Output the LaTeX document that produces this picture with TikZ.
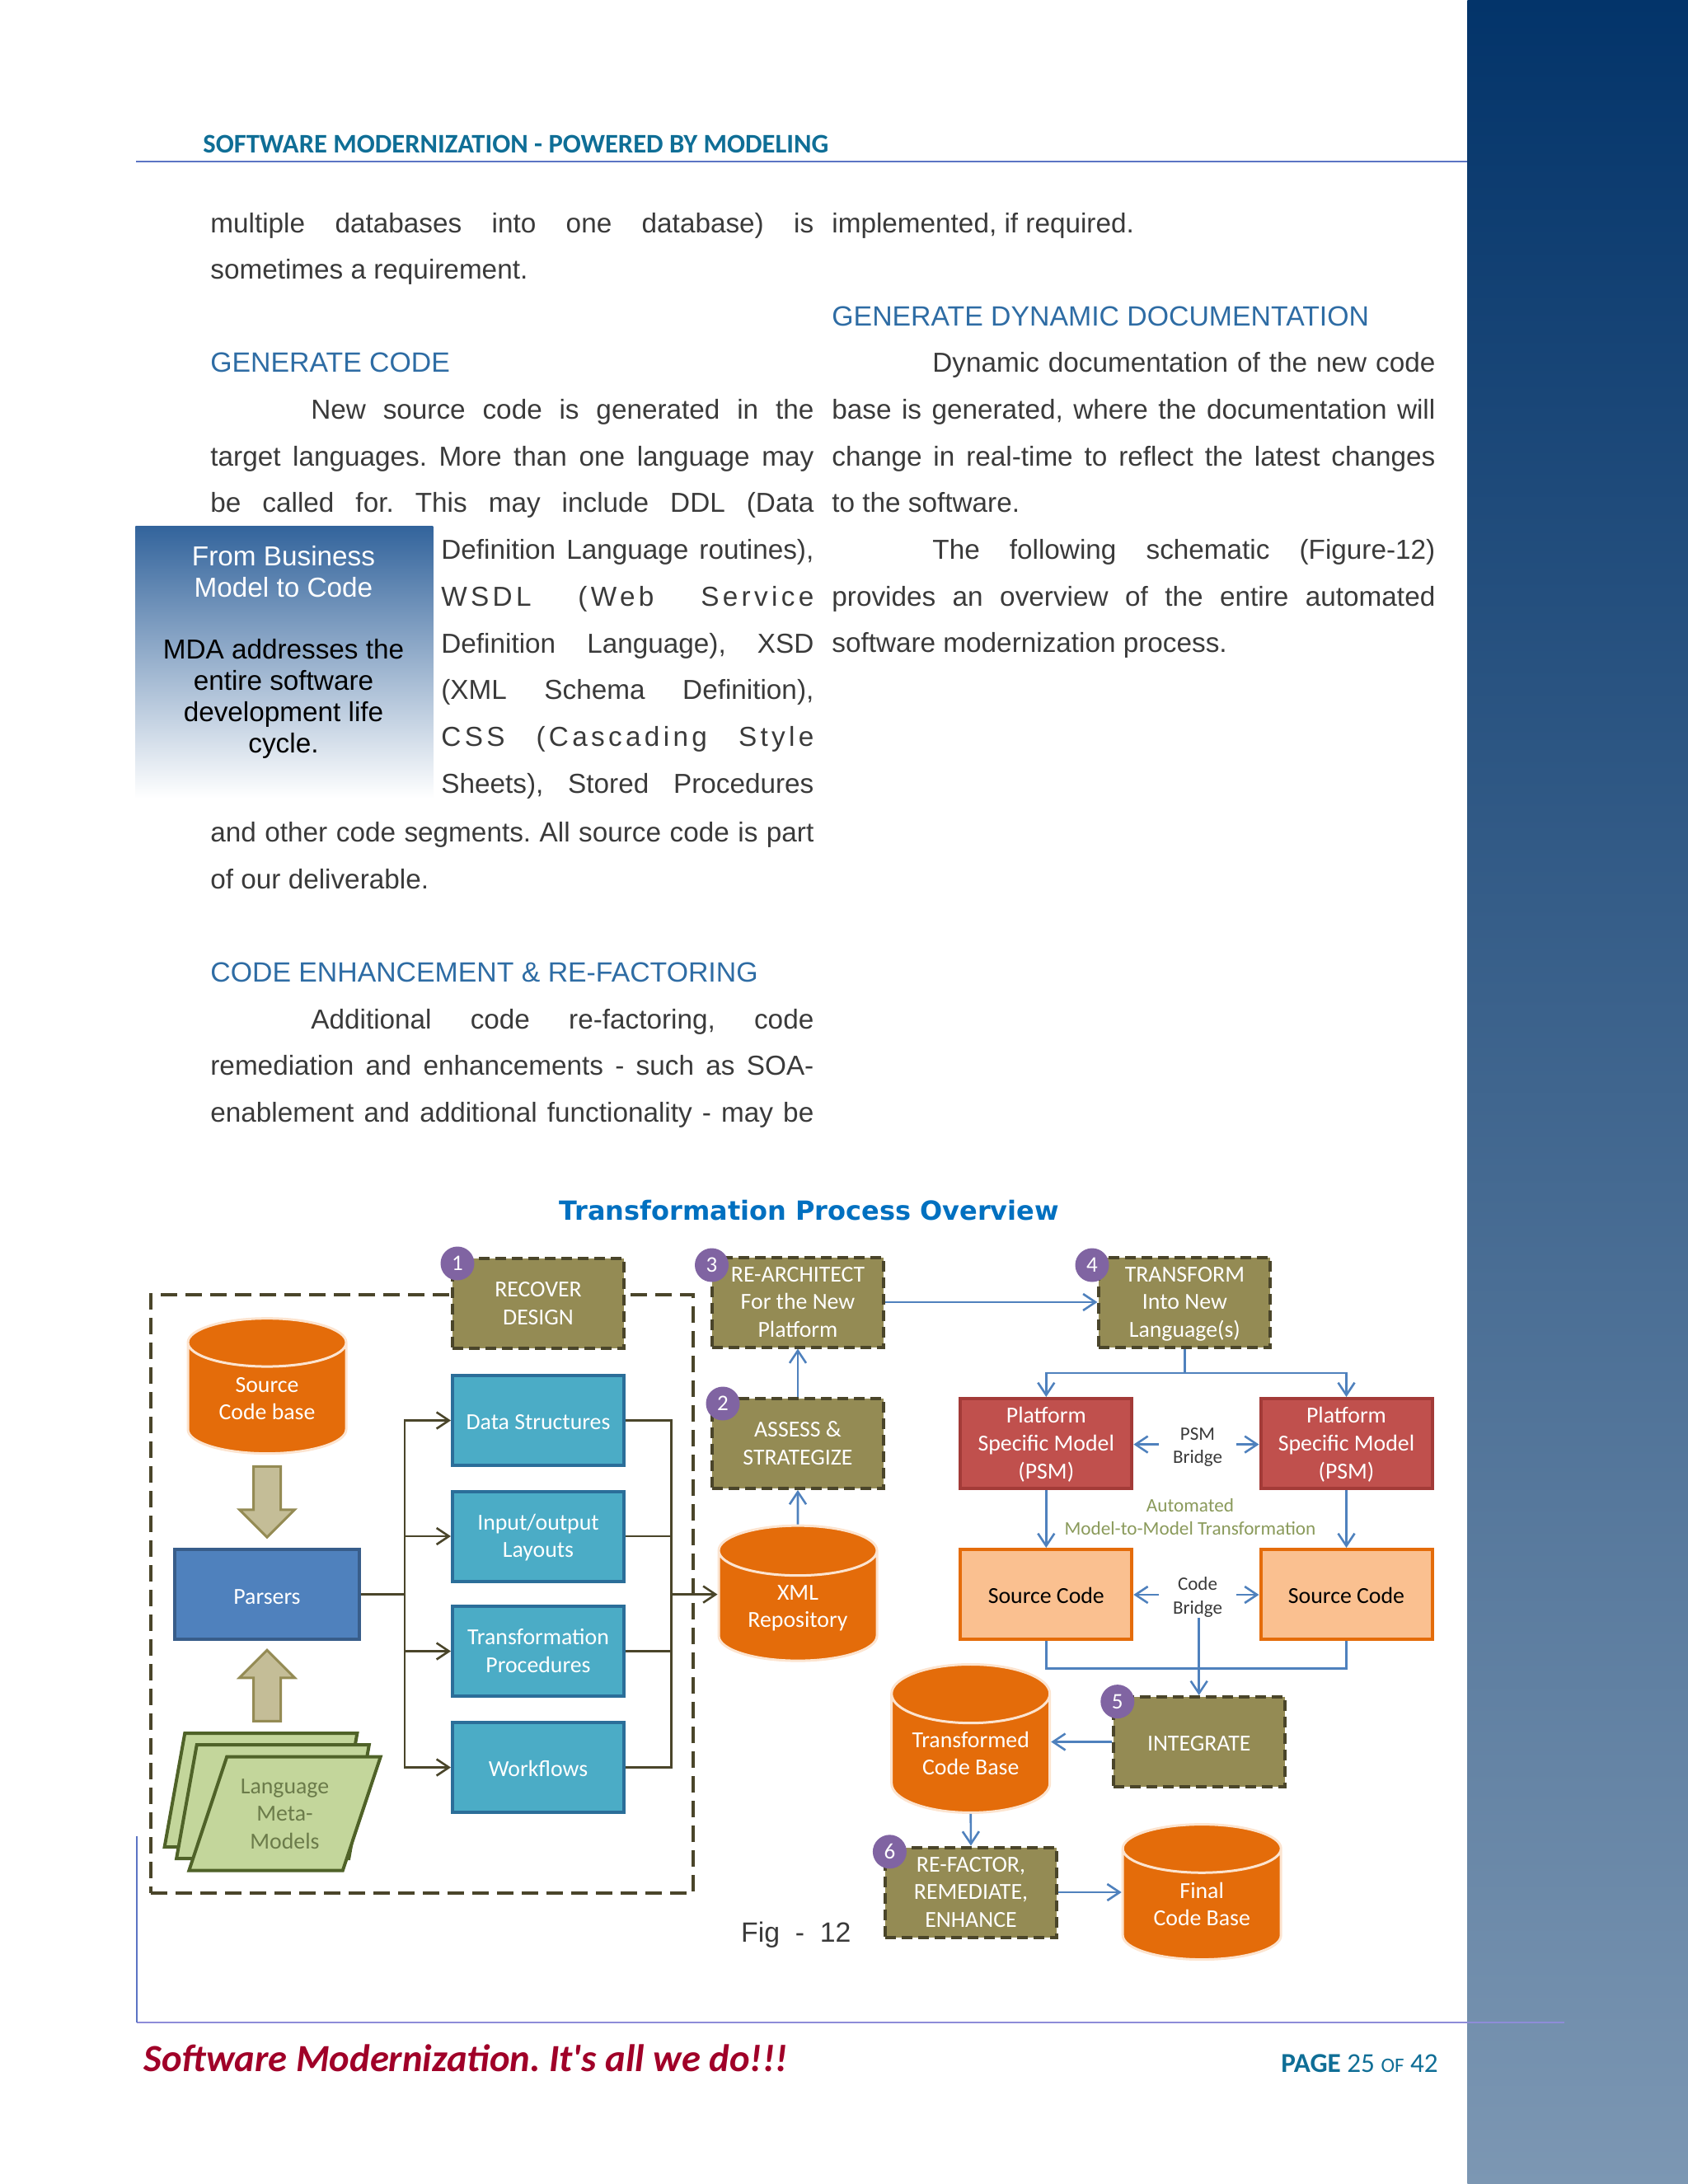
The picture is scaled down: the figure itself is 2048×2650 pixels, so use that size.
\documentclass[tikz,border=0pt]{standalone}
\usepackage{fontspec}
\setmainfont{Liberation Sans}
\newfontfamily\spacedfont[LetterSpace=13]{Liberation Sans}
\newfontfamily\boxfont{Carlito}
\newfontfamily\titlefont{DejaVu Sans}
\usetikzlibrary{arrows.meta,positioning,shapes.geometric,shapes.arrows}
\definecolor{barTop}{HTML}{03346A}
\definecolor{barBottom}{HTML}{7C97B3}
\definecolor{bodyInk}{HTML}{3A3A3A}
\definecolor{headBlue}{HTML}{2E6CA4}
\definecolor{pullBlue}{HTML}{33649C}
\definecolor{tealInk}{HTML}{0F6E96}
\definecolor{ruleBlue}{HTML}{5B74C4}
\definecolor{footRule}{HTML}{8E8CD8}
\definecolor{tagRed}{HTML}{A00028}
\definecolor{titleBlue}{HTML}{0070C0}
\definecolor{olive}{HTML}{948B54}
\definecolor{oliveDark}{HTML}{4A452A}
\definecolor{oliveLight}{HTML}{C4BD97}
\definecolor{cylOrange}{HTML}{E46C0A}
\definecolor{cylRim}{HTML}{FCE4D0}
\definecolor{cyanBox}{HTML}{4BACC6}
\definecolor{cyanLine}{HTML}{2B6E99}
\definecolor{parserBlue}{HTML}{4F81BD}
\definecolor{parserLine}{HTML}{385D8A}
\definecolor{leaf}{HTML}{C3D69B}
\definecolor{leafLine}{HTML}{4F6228}
\definecolor{leafInk}{HTML}{6B7B4A}
\definecolor{psmRed}{HTML}{C0504D}
\definecolor{psmLine}{HTML}{A33B38}
\definecolor{srcPeach}{HTML}{FAC090}
\definecolor{badgePurple}{HTML}{8064A2}
\definecolor{linkBlue}{HTML}{4F81BD}
\definecolor{autoGreen}{HTML}{8A9A5B}
\newcommand{\headfont}{\color{headBlue}\fontsize{16.9}{28.33}\selectfont}
\newcommand{\justifytext}{\leftskip=0pt\relax\rightskip=0pt\relax\parfillskip=0pt plus 1fil\relax\spaceskip=0pt\relax\xspaceskip=0pt\relax\hyphenpenalty=10000\relax}
\newcommand{\toprule}{\rule{0pt}{14pt}}
\newcommand{\smalltop}{\rule{0pt}{11pt}}
\tolerance=10000
\AtBeginDocument{\frenchspacing}

\begin{document}
\begin{tikzpicture}[
  x=0.5pt, y=-0.5pt,
  >={Straight Barb[length=7.5pt,width=10pt]},
  bodypara/.style={anchor=base west, inner sep=0pt, text=bodyInk,
    font=\fontsize{16.65}{28.33}\selectfont, execute at begin node=\justifytext},
  pullbox/.style={anchor=north west, minimum width=180.5pt, minimum height=165pt, inner sep=0pt, top color=pullBlue, bottom color=white},
  pulltext/.style={align=center, inner sep=0pt, font=\fontsize{16.65}{19}\selectfont},
  sidebar/.style={anchor=north west, minimum width=134pt, minimum height=1325pt, inner sep=0pt, top color=barTop, bottom color=barBottom},
  pagetext/.style={anchor=base west, inner sep=0pt},
  boxtxt/.style={align=center, inner sep=0pt, text=white, font=\boxfont\fontsize{13.9}{16.8}\selectfont,
    execute at begin node=\rule{0pt}{16.5pt}, execute at end node=\strut},
  outcome/.style={boxtxt, rectangle, minimum width=104pt, minimum height=54.5pt},
  taskbox/.style={outcome, fill=olive, draw=oliveDark, line width=2pt, dash pattern=on 6.5pt off 3.5pt},
  databox/.style={outcome, fill=cyanBox, draw=cyanLine, line width=2pt},
  psmbox/.style={outcome, fill=psmRed, draw=psmLine, line width=2pt},
  codebox/.style={outcome, fill=srcPeach, draw=cylOrange, line width=2pt, text=black},
  store/.style={boxtxt, cylinder, shape border rotate=90, aspect=0.5, minimum width=96pt, minimum height=82pt, fill=cylOrange, draw=cylRim, line width=1.5pt},
  badge/.style={circle, fill=badgePurple, text=white, inner sep=0pt, minimum size=20.5pt, font=\boxfont\fontsize{13.5}{16}\selectfont},
  bridge/.style={align=center, inner xsep=8.5pt, inner ysep=0pt, text=bodyInk, font=\boxfont\fontsize{11.5}{14.3}\selectfont},
  blockarrow/.style={single arrow, fill=oliveLight, draw=olive, line width=1.5pt, inner sep=7.5pt,
    minimum width=32pt, minimum height=43pt, single arrow head extend=8.5pt, single arrow head indent=0pt},
  metapage/.style={boxtxt, trapezium, trapezium left angle=71.6, trapezium right angle=108.4, trapezium stretches=true,
    fill=leaf, draw=leafLine, line width=2pt, minimum width=117pt, minimum height=69pt, inner sep=0pt, text=leafInk},
  flow/.style={linkBlue, line width=1.3pt},
  feed/.style={oliveDark, line width=1.3pt}
]

\useasboundingbox (0,0) rectangle (2048,2650);

% page furniture
\node[sidebar] (sidebar) at (1780,0) {};
\coordinate (headL) at (165,196);
\coordinate (headR) at (1780,196);
\draw[ruleBlue, line width=0.7pt] (headL) -- (headR);
\node[pagetext, text=tealInk, font=\boxfont\bfseries\fontsize{16.3}{18}\selectfont] (header) at (246,185) {SOFTWARE MODERNIZATION - POWERED BY MODELING};
\coordinate (footL) at (166,2454);
\coordinate (footR) at (1898,2454);
\coordinate (footT) at (166,2228);
\draw[footRule, line width=1.3pt] (footL) -- (footR);
\draw[ruleBlue, line width=0.6pt] (footT) -- (footL);
\node[pagetext, text=tagRed, font=\boxfont\bfseries\itshape\fontsize{23.3}{24}\selectfont] (tagline) at (174,2513) {Software Modernization. It's all we do!!!};
\node[pagetext, text=tealInk, font=\boxfont\fontsize{16.6}{18}\selectfont] (pageno) at (1554,2514) {\textbf{PAGE} 25 {\fontsize{12.5}{14}\selectfont OF} 42};

% body text
\node[bodypara, text width=366pt] (leftA) at (255,282) {multiple databases into one database) is\linebreak
  sometimes a requirement.\par
  \strut\par
  {\headfont GENERATE CODE}\par
  \hspace*{61pt}New source code is generated in the\linebreak
  target languages. More than one language may\linebreak
  be called for. This may include DDL (Data\parfillskip=0pt\par};
\node[bodypara, text width=226pt] (leftB) at (535,678.7) {Definition Language routines),\linebreak
  {\spacedfont WSDL (Web Service}\linebreak
  Definition Language), XSD\linebreak
  (XML Schema Definition),\linebreak
  {\spacedfont CSS (Cascading Style}\linebreak
  Sheets), Stored Procedures\parfillskip=0pt\par};
\node[bodypara, text width=366pt] (leftC) at (255,1021.5) {and other code segments. All source code is part\linebreak
  of our deliverable.\par
  \strut\par
  {\headfont CODE ENHANCEMENT \& RE-FACTORING}\par
  \hspace*{61pt}Additional code re-factoring, code\linebreak
  remediation and enhancements - such as SOA-\linebreak
  enablement and additional functionality - may be\parfillskip=0pt\par};
\node[bodypara, text width=366pt] (rightA) at (1009,282) {implemented, if required.\par
  \strut\par
  {\headfont GENERATE DYNAMIC DOCUMENTATION}\par
  \hspace*{61pt}Dynamic documentation of the new code\linebreak
  base is generated, where the documentation will\linebreak
  change in real-time to reflect the latest changes\linebreak
  to the software.\par
  \hspace*{61pt}The following schematic (Figure-12)\linebreak
  provides an overview of the entire automated\linebreak
  software modernization process.\par};

% pull quote
\node[pullbox] (pull) at (164,638) {};
\node[pulltext, text=white] (pullA) at (344,694) {From Business\\Model to Code};
\node[pulltext, text=black] (pullB) at (344,848) {MDA addresses the\\entire software\\development life\\cycle.};

% figure
\node[anchor=base, inner sep=0pt, text=titleBlue, font=\titlefont\bfseries\fontsize{16}{18}\selectfont] (figtitle) at (982,1480) {Transformation Process Overview};

\node[draw=oliveDark, line width=2pt, dash pattern=on 10pt off 5pt, minimum width=329pt, minimum height=363pt, inner sep=0pt] (frame) at (512,1934) {};

\node[taskbox] (recover) at (653,1581.5) {\toprule RECOVER\\DESIGN};
\node[databox] (structs) at (653,1723.5) {Data Structures};
\node[databox] (layouts) at (653,1864) {\toprule Input/output\\Layouts};
\node[databox] (procs) at (653,2003.5) {\toprule Transformation\\Procedures};
\node[databox] (flows) at (653,2144.5) {Workflows};

\node[store] (srcbase) at (324,1697) {\toprule Source\\Code base};
\node[blockarrow, shape border rotate=270] (downarrow) at (324,1814) {};
\node[outcome, fill=parserBlue, draw=parserLine, line width=2pt, minimum width=112pt] (parsers) at (324,1934.6) {Parsers};
\node[blockarrow, shape border rotate=90] (uparrow) at (324,2053.5) {};

\node[metapage] (metaC) at (316.5,2172) {\phantom{Language}};
\node[metapage] (metaB) at (331,2186) {\phantom{Language}};
\node[metapage] (metaA) at (345.5,2200.7) {\toprule Language\\Meta-\\Models};

\coordinate (split) at (491,1934.6);
\coordinate (collect) at (814.5,1934.6);
\node[store] (xmlrepo) at (968,1949) {\toprule XML\\Repository};
\draw[feed] (parsers.east) -- (split);
\draw[feed, ->] (split) |- (structs.west);
\draw[feed, ->] (split) |- (layouts.west);
\draw[feed, ->] (split) |- (procs.west);
\draw[feed, ->] (split) |- (flows.west);
\draw[feed] (structs.east) -| (collect);
\draw[feed] (layouts.east) -| (collect);
\draw[feed] (procs.east) -| (collect);
\draw[feed] (flows.east) -| (collect);
\draw[feed, ->] (collect) -- (collect -| xmlrepo.west);

\node[taskbox] (assess) at (968,1751.4) {\toprule ASSESS \&\\STRATEGIZE};
\node[taskbox] (rearch) at (968,1580) {\toprule RE-ARCHITECT\\For the New\\Platform};
\node[taskbox] (transform) at (1437.4,1580) {\toprule TRANSFORM\\Into New\\Language(s)};
\draw[flow, ->] (xmlrepo.north) -- (assess.south);
\draw[flow, ->] (assess.north) -- (rearch.south);
\draw[flow, ->] (rearch.east) -- (transform.west);

\node[psmbox] (psmL) at (1269.3,1751.5) {\toprule Platform\\Specific Model\\(PSM)};
\node[psmbox] (psmR) at (1633.5,1751.5) {\toprule Platform\\Specific Model\\(PSM)};
\node[codebox] (codeL) at (1269.3,1934.5) {Source Code};
\node[codebox] (codeR) at (1633.5,1934.5) {Source Code};
\coordinate (fork) at (1437.4,1666);
\draw[flow] (transform.south) -- (fork);
\draw[flow, ->] (fork) -| (psmL.north);
\draw[flow, ->] (fork) -| (psmR.north);

\node[bridge] (psmbridge) at (1453,1752.6) {\smalltop PSM\\Bridge};
\node[bridge] (codebridge) at (1453,1935) {\smalltop Code\\Bridge};
\draw[flow, ->] (psmbridge.west) -- (psmbridge.west -| psmL.east);
\draw[flow, ->] (psmbridge.east) -- (psmbridge.east -| psmR.west);
\draw[flow, ->] (codebridge.west) -- (codebridge.west -| codeL.east);
\draw[flow, ->] (codebridge.east) -- (codebridge.east -| codeR.west);
\draw[flow, ->] (psmL.south) -- (codeL.north);
\draw[flow, ->] (psmR.south) -- (codeR.north);
\node[align=center, inner sep=0pt, text=autoGreen, font=\boxfont\fontsize{11.6}{14}\selectfont] (autotxt) at (1444,1840.5) {Automated\\Model-to-Model Transformation};

\node[taskbox] (integrate) at (1454.7,2113.5) {INTEGRATE};
\coordinate (merge) at (1454.7,2024.3);
\draw[flow] (codeL.south) |- (merge);
\draw[flow] (codeR.south) |- (merge);
\draw[flow, ->] (codebridge.south -| integrate.north) -- (integrate.north);

\node[store] (transbase) at (1177.7,2128) {\toprule Transformed\\Code Base};
\node[taskbox] (refactor) at (1178,2296) {\toprule RE-FACTOR,\\REMEDIATE,\\ENHANCE};
\node[store] (finalbase) at (1458.2,2311) {\toprule Final\\Code Base};
\draw[flow, ->] (integrate.west) -- (integrate.west -| transbase.east);
\draw[flow, ->] (transbase.south) -- (refactor.north);
\draw[flow, ->] (refactor.east) -- (refactor.east -| finalbase.west);

\node[badge] (badgeA) at (555,1533) {1};
\node[badge] (badgeB) at (877,1703) {2};
\node[badge] (badgeC) at (863.5,1535) {3};
\node[badge] (badgeD) at (1325,1535) {4};
\node[badge] (badgeE) at (1355.8,2064.6) {5};
\node[badge] (badgeF) at (1079.4,2246.8) {6};

\node[pagetext, text=bodyInk, font=\fontsize{16.9}{20}\selectfont] (figcaption) at (898.7,2356.4) {Fig~~-~~12};

\end{tikzpicture}
\end{document}
